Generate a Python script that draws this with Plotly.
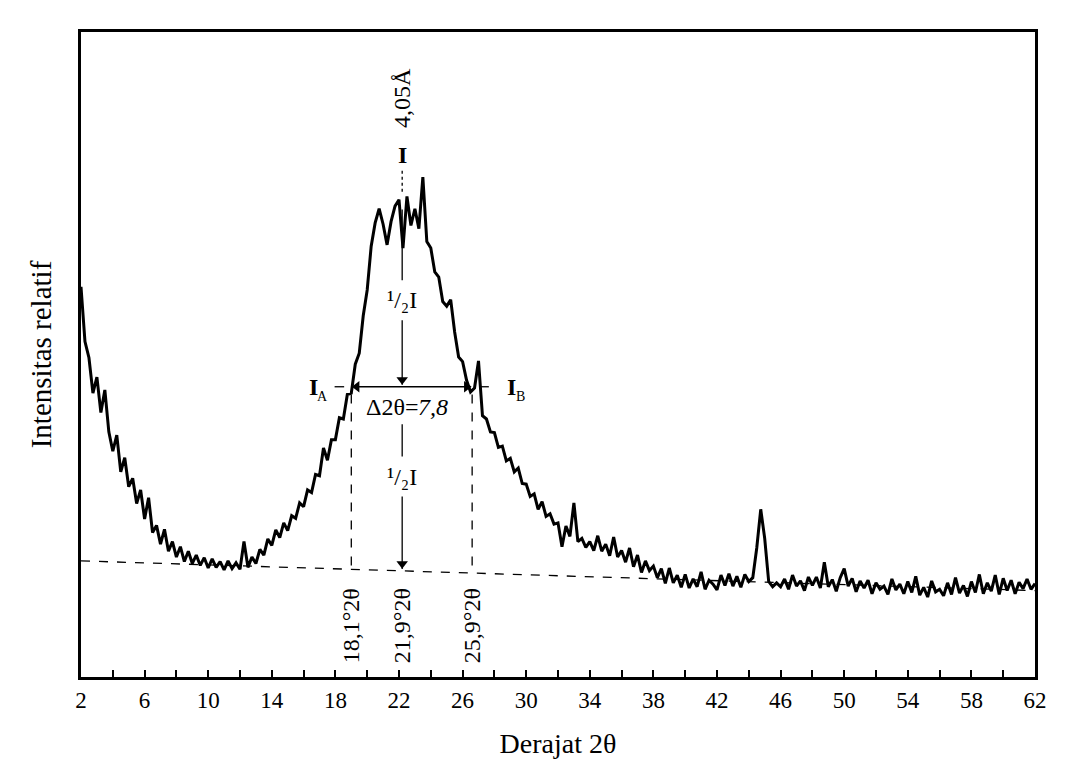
import plotly.graph_objects as go

# ---------------- data ----------------
scan_start = 2.0          # first 2-theta of the scan (deg)
scan_step = 0.25          # scan step (deg)

intensity = [
    60.5, 52.0, 49.5, 44.0, 46.5, 41.0, 44.5, 38.0,     # 2.00 - 3.75
    35.0, 37.5, 31.8, 34.0, 29.5, 30.8, 26.9, 29.0,     # 4.00 - 5.75
    24.5, 27.8, 22.4, 23.5, 20.6, 22.9, 19.5, 21.0,     # 6.00 - 7.75
    18.6, 20.2, 17.9, 19.5, 17.6, 18.9, 17.3, 18.5,     # 8.00 - 9.75
    16.9, 18.3, 17.0, 17.9, 16.6, 18.0, 16.8, 17.7,     # 10.00 - 11.75
    16.7, 21.0, 17.0, 18.6, 17.6, 19.8, 18.9, 21.4,     # 12.00 - 13.75
    20.4, 22.8, 21.6, 23.9, 22.7, 25.0, 24.6, 27.0,     # 14.00 - 15.75
    26.4, 29.0, 28.6, 31.4, 31.2, 35.5, 33.6, 36.8,     # 16.00 - 17.75
    36.8, 40.2, 40.0, 43.8, 44.0, 48.5, 50.2, 56.0,     # 18.00 - 19.75
    60.0, 66.8, 70.4, 72.6, 70.2, 67.0, 70.6, 73.0,     # 20.00 - 21.75
    74.0, 66.5, 74.5, 70.0, 72.6, 69.5, 77.5, 67.5,     # 22.00 - 23.75
    66.5, 62.8, 62.0, 58.2, 57.5, 58.5, 53.5, 49.6,     # 24.00 - 25.75
    48.9, 46.0, 44.2, 44.8, 49.0, 40.5, 40.0, 38.0,     # 26.00 - 27.75
    37.9, 35.6, 35.8, 33.5, 33.9, 31.8, 32.4, 30.0,     # 28.00 - 29.75
    29.9, 28.0, 28.4, 26.0, 27.2, 24.9, 25.3, 23.7,     # 30.00 - 31.75
    23.9, 20.2, 23.4, 21.8, 27.0, 21.0, 21.5, 20.1,     # 32.00 - 33.75
    21.0, 19.6, 21.9, 19.5, 20.6, 18.8, 21.7, 18.6,     # 34.00 - 35.75
    19.6, 17.8, 20.0, 17.1, 18.9, 16.2, 18.0, 16.5,     # 36.00 - 37.75
    17.2, 15.4, 16.8, 14.5, 16.9, 14.6, 15.8, 13.9,     # 38.00 - 39.75
    15.9, 13.8, 15.2, 14.0, 16.3, 13.6, 15.0, 14.4,     # 40.00 - 41.75
    13.5, 15.8, 14.2, 16.0, 14.1, 15.6, 13.9, 15.9,     # 42.00 - 43.75
    14.8, 15.4, 20.0, 26.0, 21.5, 14.8, 14.0, 14.6,     # 44.00 - 45.75
    14.0, 15.2, 13.6, 15.8, 14.1, 14.9, 13.4, 15.5,     # 46.00 - 47.75
    14.2, 15.5, 13.8, 17.8, 14.0, 15.1, 13.3, 15.4,     # 48.00 - 49.75
    16.8, 14.1, 15.3, 13.2, 14.9, 13.8, 15.0, 12.9,     # 50.00 - 51.75
    14.6, 13.6, 14.1, 12.8, 15.2, 13.5, 14.4, 12.9,     # 52.00 - 53.75
    14.8, 13.1, 15.6, 12.7, 13.9, 12.4, 14.9, 13.2,     # 54.00 - 55.75
    13.6, 12.6, 14.6, 12.8, 15.4, 13.0, 14.2, 12.5,     # 56.00 - 57.75
    14.8, 13.1, 15.9, 12.9, 14.6, 13.3, 15.8, 12.8,     # 58.00 - 59.75
    15.3, 13.4, 15.0, 12.9, 14.7, 13.7, 15.2, 13.6, 14.5,  # 60.00 - 62.00
]
two_theta = [scan_start + scan_step * i for i in range(len(intensity))]

tick_values = [2, 6, 10, 14, 18, 22, 26, 30, 34, 38, 42, 46, 50, 54, 58, 62]
tick_labels = [str(v) for v in tick_values]

# background line (start / end)
baseline_x = [2.0, 62.0]
baseline_y = [18.0, 13.4]

# peak analysis
half_level = 45.0             # level of half maximum
marker_x = [19.0, 22.2, 26.6] # positions of left, centre, right lines on the drawing
marker_labels = ["18,1°2θ", "21,9°2θ", "25,9°2θ"]
d_spacing_label = "4,05Å"
half_label = "¹/₂I"
fwhm_label_a = "Δ2θ="
fwhm_label_b = "7,8"

SERIF = "Liberation Serif, Times New Roman, serif"


def base_at(x):
    return baseline_y[0] + (baseline_y[1] - baseline_y[0]) * (x - baseline_x[0]) / (baseline_x[1] - baseline_x[0])


fig = go.Figure()
fig.add_trace(go.Scatter(
    x=two_theta, y=intensity, mode="lines",
    line=dict(color="black", width=3),
    showlegend=False, hoverinfo="skip",
))

thin = dict(color="black", width=1.3)
# baseline dashed
fig.add_shape(type="line", x0=baseline_x[0], y0=baseline_y[0], x1=baseline_x[1], y1=baseline_y[1],
              line=dict(thin, dash="dash"))

# dashed verticals at left/right
for xv in (marker_x[0], marker_x[2]):
    fig.add_shape(type="line", x0=xv, x1=xv, y0=half_level - 1.2, y1=base_at(xv),
                  line=dict(thin, dash="dash"))

xc = marker_x[1]
xb = base_at(xc)
fig.add_shape(type="line", x0=xc, x1=xc, y0=78.5, y1=75.0, line=dict(thin, dash="dot"))
fig.add_shape(type="line", x0=xc, x1=xc, y0=72.5, y1=61.5, line=thin)
fig.add_shape(type="line", x0=xc, x1=xc, y0=55.3, y1=half_level + 0.3, line=thin)
fig.add_shape(type="line", x0=xc, x1=xc, y0=39.2, y1=34.2, line=thin)
fig.add_shape(type="line", x0=xc, x1=xc, y0=28.0, y1=xb + 0.3, line=thin)
fig.add_shape(type="line", x0=marker_x[0] + 0.2, x1=marker_x[2] - 0.2, y0=half_level, y1=half_level, line=thin)
# small dashes next to I_A and I_B
fig.add_shape(type="line", x0=marker_x[0] - 1.05, x1=marker_x[0] - 0.45, y0=half_level, y1=half_level, line=thin)
fig.add_shape(type="line", x0=marker_x[2] + 0.45, x1=marker_x[2] + 1.05, y0=half_level, y1=half_level, line=thin)

# arrow heads
head_x = [xc, xc, marker_x[0] + 0.35, marker_x[2] - 0.35]
head_y = [half_level + 1.1, xb + 1.1, half_level, half_level]
head_sym = ["triangle-down", "triangle-down", "triangle-left", "triangle-right"]
fig.add_trace(go.Scatter(
    x=head_x, y=head_y, mode="markers",
    marker=dict(symbol=head_sym, size=10, color="black", line=dict(width=0)),
    showlegend=False, hoverinfo="skip",
))

ann = []


def label(x, y, text, size=24, weight="normal", style="normal", angle=0, xanchor="center"):
    ann.append(dict(x=x, y=y, xref="x", yref="y", text=text, showarrow=False, textangle=angle,
                    xanchor=xanchor,
                    font=dict(family=SERIF, size=size, color="black", weight=weight, style=style)))


label(xc, 89.8, d_spacing_label, angle=-90)
label(xc, 81.0, "I", weight="bold")
label(xc, 58.4, half_label)
label(xc, 31.0, half_label)
label(23.3, 41.8, fwhm_label_a, xanchor="right")
label(23.05, 41.8, fwhm_label_b, style="italic", xanchor="left")
# I_A and I_B
label(16.6, half_level, "I", weight="bold")
label(17.2, half_level - 1.5, "A", size=14)
label(29.05, half_level, "I", weight="bold")
label(29.65, half_level - 1.5, "B", size=14)
for xv, lab in zip(marker_x, marker_labels):
    label(xv, 7.9, lab, angle=-90)

fig.update_layout(
    width=1066, height=781,
    margin=dict(l=81, r=31, t=32, b=104),
    paper_bgcolor="white", plot_bgcolor="white",
    annotations=ann,
    xaxis=dict(
        range=[2, 62], tickvals=tick_values, ticktext=tick_labels,
        ticks="inside", ticklen=7, tickwidth=2, tickcolor="black",
        minor=dict(dtick=2, tick0=2, ticks="inside", ticklen=7, tickwidth=2, tickcolor="black"),
        showline=True, linecolor="black", linewidth=3, mirror=True,
        showgrid=False, zeroline=False,
        tickfont=dict(family=SERIF, size=23, color="black"),
        ticklabelstandoff=0,
        title=dict(text="Derajat 2θ", font=dict(family=SERIF, size=28, color="black"), standoff=22),
    ),
    yaxis=dict(
        range=[0, 100], showticklabels=False, ticks="",
        showline=True, linecolor="black", linewidth=3, mirror=True,
        showgrid=False, zeroline=False,
        title=dict(text="Intensitas relatif", font=dict(family=SERIF, size=29, color="black"), standoff=18),
    ),
)

fig.write_html("out.html")
